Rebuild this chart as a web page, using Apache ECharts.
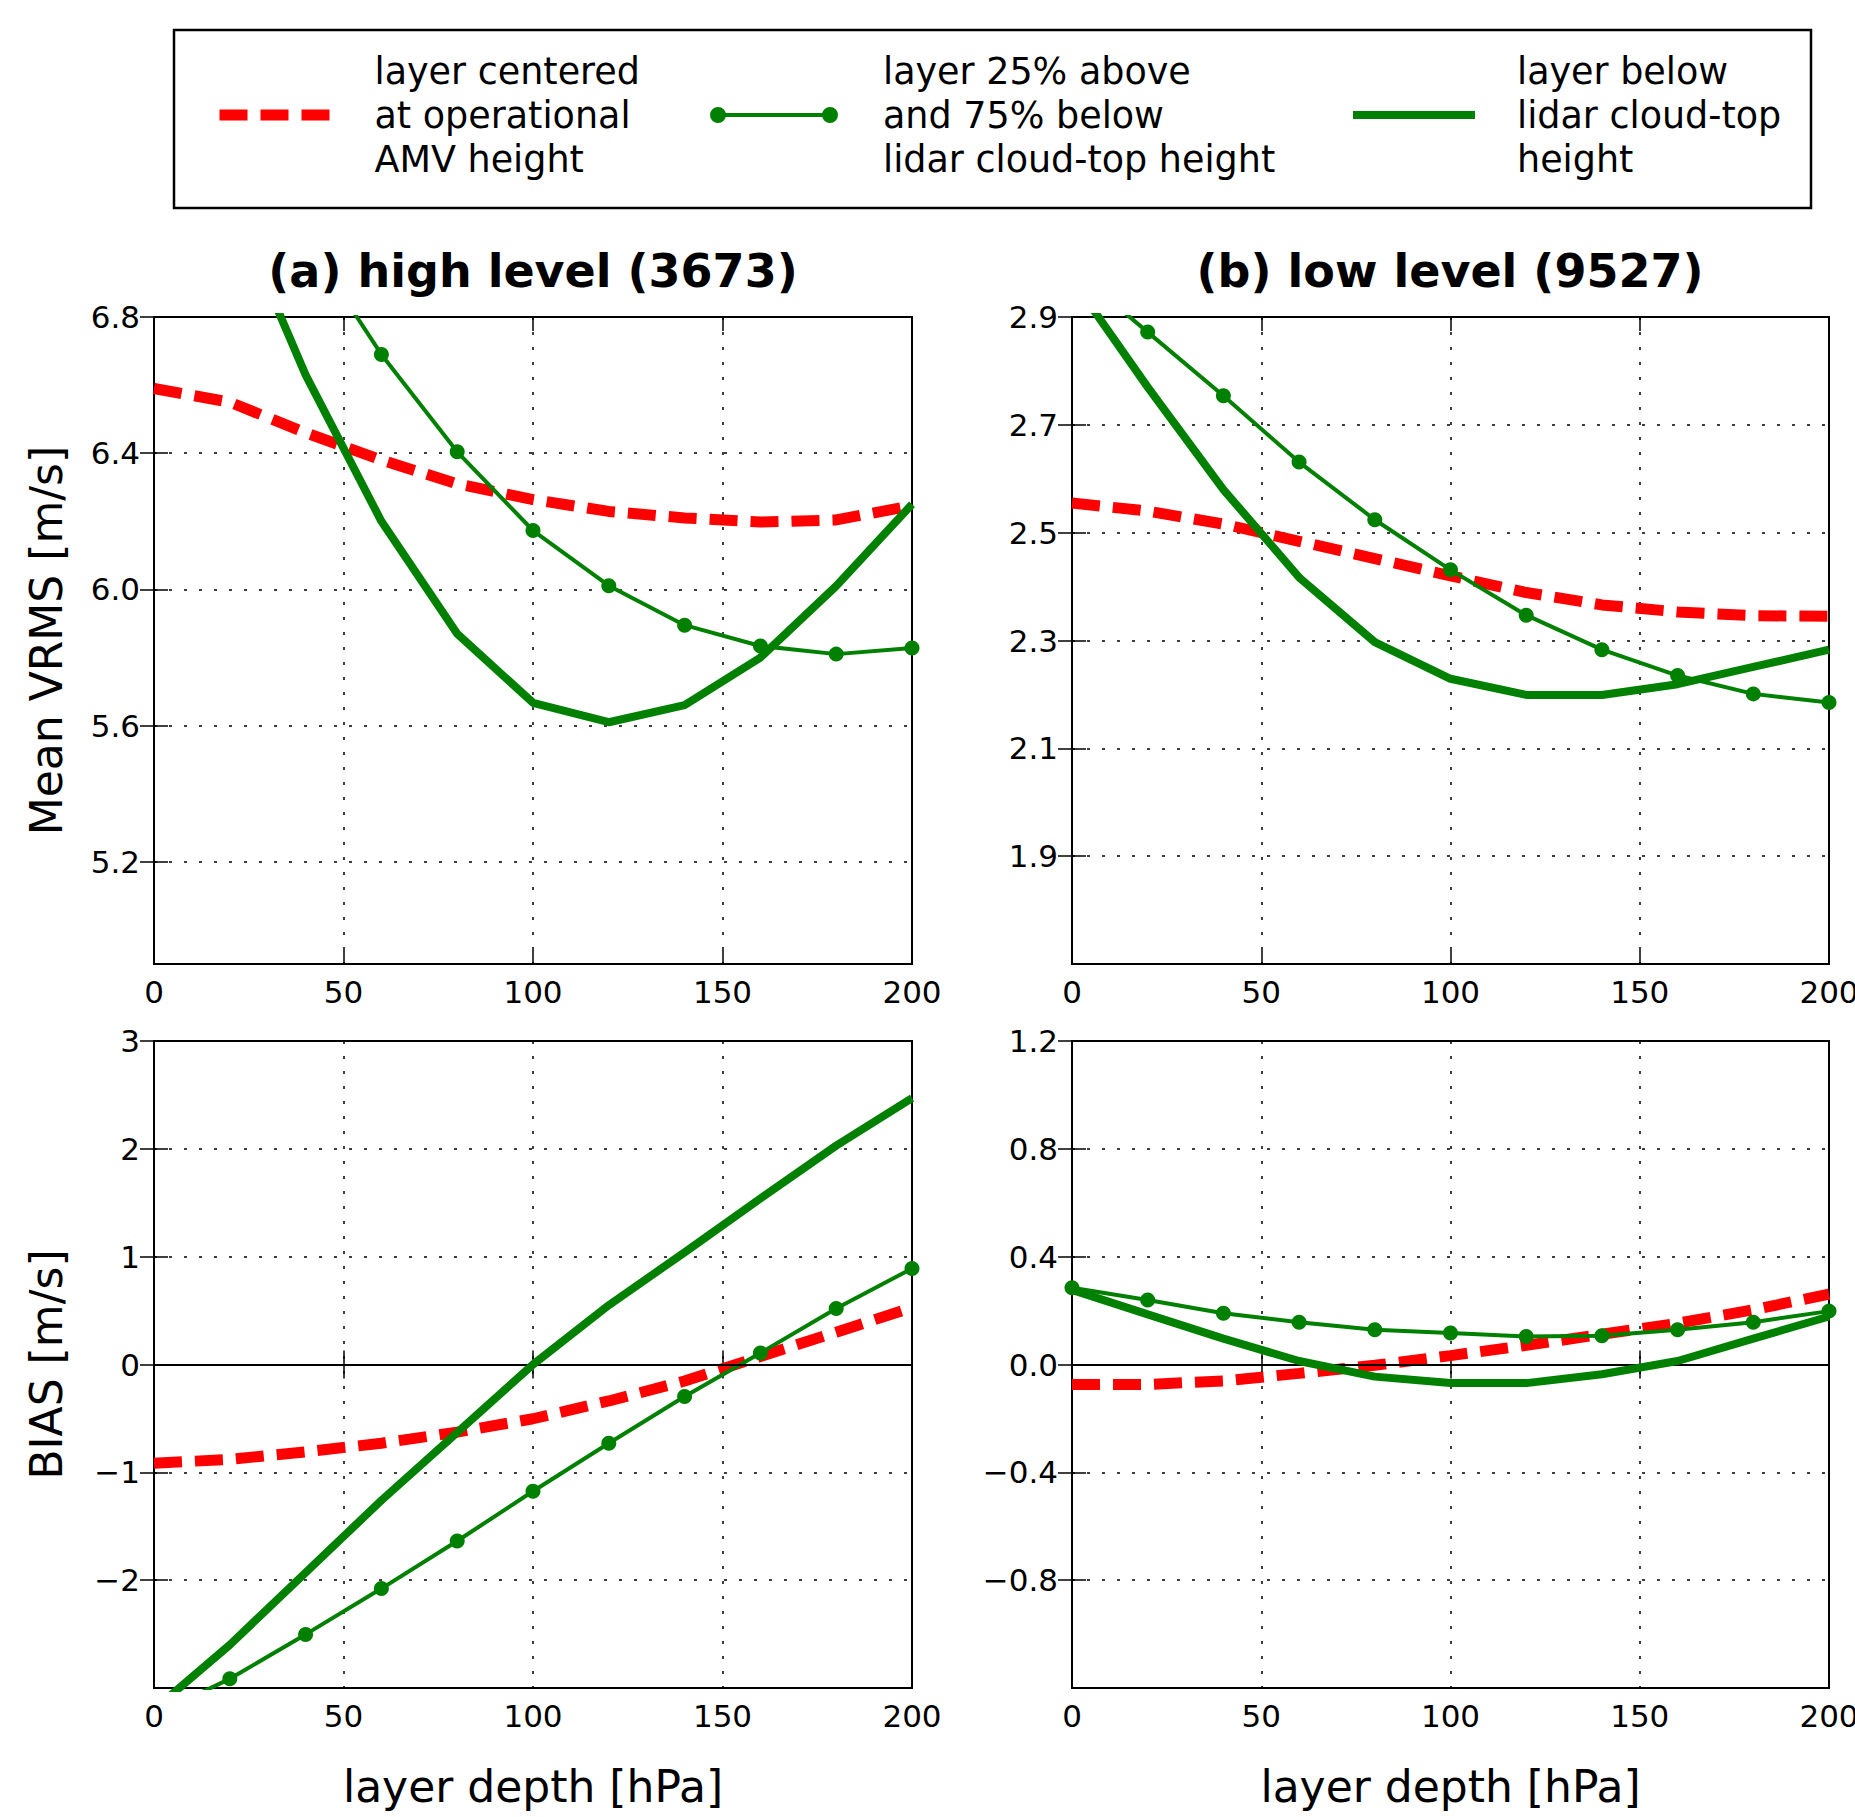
<!DOCTYPE html>
<html><head><meta charset="utf-8">
<script src="https://cdn.jsdelivr.net/npm/echarts@6/dist/echarts.min.js"></script>
<style>html,body{margin:0;padding:0;background:#fff;overflow:hidden}#c{width:1855px;height:1817px}</style>
</head><body><div id="c"></div>
<script>
// ---- data ----
const depth = [0, 20, 40, 60, 80, 100, 120, 140, 160, 180, 200];
const xTicks = [0, 50, 100, 150, 200];
const seriesKeys = ['centered', 'mixed', 'below'];
const legendLabels = [
  'layer centered\nat operational\nAMV height',
  'layer 25% above\nand 75% below\nlidar cloud-top height',
  'layer below\nlidar cloud-top\nheight'
];
const panelTitles = ['(a) high level (3673)', '(b) low level (9527)'];
const yNames = ['Mean VRMS [m/s]', 'BIAS [m/s]'];
const xName = 'layer depth [hPa]';

const vrmsHighCentered = [6.59, 6.55, 6.46, 6.38, 6.31, 6.264, 6.229, 6.21, 6.198, 6.204, 6.246];
const vrmsHighMixed    = [7.8, 7.4, 7.03, 6.69, 6.404, 6.173, 6.011, 5.895, 5.834, 5.81, 5.828];
const vrmsHighBelow    = [7.6, 7.15, 6.63, 6.2, 5.87, 5.667, 5.61, 5.66, 5.80, 6.01, 6.25];

const vrmsLowCentered  = [2.555, 2.54, 2.516, 2.484, 2.452, 2.42, 2.389, 2.366, 2.353, 2.346, 2.345];
const vrmsLowMixed     = [2.99, 2.872, 2.754, 2.631, 2.524, 2.431, 2.347, 2.283, 2.235, 2.201, 2.185];
const vrmsLowBelow     = [2.97, 2.77, 2.58, 2.417, 2.297, 2.229, 2.199, 2.199, 2.219, 2.251, 2.283];

const biasHighCentered = [-0.915, -0.88, -0.81, -0.73, -0.627, -0.503, -0.338, -0.153, 0.074, 0.30, 0.528];
const biasHighMixed    = [-3.25, -2.915, -2.503, -2.078, -1.637, -1.175, -0.73, -0.297, 0.107, 0.52, 0.89];
const biasHighBelow    = [-3.2, -2.6, -1.93, -1.26, -0.63, 0.0, 0.55, 1.04, 1.54, 2.03, 2.47];

const biasLowCentered  = [-0.074, -0.074, -0.061, -0.033, -0.003, 0.033, 0.071, 0.112, 0.153, 0.203, 0.261];
const biasLowMixed     = [0.285, 0.239, 0.19, 0.157, 0.129, 0.117, 0.104, 0.107, 0.129, 0.157, 0.198];
const biasLowBelow     = [0.277, 0.186, 0.096, 0.013, -0.045, -0.069, -0.069, -0.036, 0.013, 0.096, 0.178];

// y-axis ranges and tick labels
const yRanges = [[4.9, 6.8], [1.7, 2.9], [-3, 3], [-1.2, 1.2]];
const yTickVals = [
  [5.2, 5.6, 6.0, 6.4, 6.8],
  [1.9, 2.1, 2.3, 2.5, 2.7, 2.9],
  [-2, -1, 0, 1, 2, 3],
  [-0.8, -0.4, 0.0, 0.4, 0.8, 1.2]
];
const yDecimals = [1, 1, 0, 1];

// ---- layout ----
const FONT = 'DejaVu Sans';
const grids = [
  {left: 154, top: 317, width: 758, height: 647},
  {left: 1072, top: 317, width: 757, height: 647},
  {left: 154, top: 1041, width: 758, height: 647},
  {left: 1072, top: 1041, width: 757, height: 647}
];
const panelData = [
  [vrmsHighCentered, vrmsHighMixed, vrmsHighBelow],
  [vrmsLowCentered, vrmsLowMixed, vrmsLowBelow],
  [biasHighCentered, biasHighMixed, biasHighBelow],
  [biasLowCentered, biasLowMixed, biasLowBelow]
];
const RED = '#ff0000', GREEN = '#008000';
const gridLineStyle = {color: '#000', width: 1.5, type: [3, 12]};
const tickStyle = {show: true, inside: true, length: 14, lineStyle: {color: '#000', width: 1.5}};
const minus = s => s.replace('-', '\u2212');

const xAxes = [], yAxes = [], series = [];
grids.forEach((g, i) => {
  const bottomRow = i >= 2;
  xAxes.push({
    type: 'value', gridIndex: i, position: 'bottom', min: 0, max: 200, interval: 50,
    axisLine: {show: false},
    axisTick: tickStyle,
    axisLabel: {show: true, fontFamily: FONT, fontSize: 31, color: '#000', margin: 12},
    splitLine: {show: true, lineStyle: gridLineStyle},
    name: bottomRow ? xName : '', nameLocation: 'middle', nameGap: 76,
    nameTextStyle: {fontFamily: FONT, fontSize: 44, color: '#000'}
  });
  xAxes.push({
    type: 'value', gridIndex: i, position: 'top', min: 0, max: 200, interval: 50,
    axisLine: {show: false}, axisTick: tickStyle, axisLabel: {show: false}, splitLine: {show: false}
  });
  const dec = yDecimals[i];
  yAxes.push({
    type: 'value', gridIndex: i, position: 'left', min: yRanges[i][0], max: yRanges[i][1],
    axisLine: {show: false},
    axisTick: Object.assign({}, tickStyle, {customValues: yTickVals[i]}),
    axisLabel: {show: true, customValues: yTickVals[i], fontFamily: FONT, fontSize: 31, color: '#000', margin: 14,
      formatter: v => minus(Number(v).toFixed(dec))},
    splitLine: {show: true, lineStyle: gridLineStyle},
    name: (i % 2 === 0) ? yNames[i >> 1] : '', nameLocation: 'middle', nameRotate: 90, nameGap: 86,
    nameTextStyle: {fontFamily: FONT, fontSize: 44, color: '#000'}
  });
  yAxes.push({
    type: 'value', gridIndex: i, position: 'right', min: yRanges[i][0], max: yRanges[i][1],
    axisLine: {show: false},
    axisTick: Object.assign({}, tickStyle, {customValues: yTickVals[i]}),
    axisLabel: {show: false, customValues: yTickVals[i]}, splitLine: {show: false}
  });
  const [cen, mix, bel] = panelData[i];
  const pairs = arr => depth.map((d, k) => [d, arr[k]]);
  series.push({
    name: 'centered', type: 'line', xAxisIndex: 2 * i, yAxisIndex: 2 * i, data: pairs(cen),
    showSymbol: false, symbol: 'none', clip: true,
    lineStyle: {color: RED, width: 11, type: [28, 13], cap: 'butt'}, itemStyle: {color: RED},
    markLine: bottomRow ? {silent: true, symbol: 'none', label: {show: false},
      lineStyle: {color: '#000', width: 2, type: 'solid'}, data: [{yAxis: 0}]} : undefined,
    z: 3
  });
  series.push({
    name: 'mixed', type: 'line', xAxisIndex: 2 * i, yAxisIndex: 2 * i, data: pairs(mix),
    symbol: 'circle', symbolSize: 15, showSymbol: true, clip: true,
    lineStyle: {color: GREEN, width: 4}, itemStyle: {color: GREEN}, z: 4
  });
  series.push({
    name: 'below', type: 'line', xAxisIndex: 2 * i, yAxisIndex: 2 * i, data: pairs(bel),
    symbol: 'none', showSymbol: false, clip: true,
    lineStyle: {color: GREEN, width: 8, join: 'round'}, itemStyle: {color: GREEN}, z: 5
  });
});

const legendTextStyle = pad => ({fontFamily: FONT, fontSize: 36.5, lineHeight: 44, color: '#000', padding: [0, 0, 0, pad]});
const legendFormatter = name => legendLabels[seriesKeys.indexOf(name)];
const legends = [
  {data: ['centered'], left: 214, top: 49, padding: 0, itemWidth: 113, itemHeight: 16, selectedMode: false,
    formatter: legendFormatter, textStyle: legendTextStyle(37),
    lineStyle: {color: RED, width: 11, type: [28, 13], cap: 'butt'}, itemStyle: {opacity: 0}},
  {data: [{name: 'mixed',
      icon: 'path://M0,8a8,8 0 1,1 16,0a8,8 0 1,1 -16,0z M112,8a8,8 0 1,1 16,0a8,8 0 1,1 -16,0z M8,6H120V10H8z'}],
    left: 710, top: 49, padding: 0, itemWidth: 128, itemHeight: 16, selectedMode: false,
    formatter: legendFormatter, textStyle: legendTextStyle(40), itemStyle: {color: GREEN}},
  {data: ['below'], left: 1349, top: 49, padding: 0, itemWidth: 122, itemHeight: 16, selectedMode: false,
    formatter: legendFormatter, textStyle: legendTextStyle(37),
    lineStyle: {color: GREEN, width: 8}, itemStyle: {opacity: 0}}
];

const option = {
  animation: false,
  backgroundColor: '#fff',
  title: [
    {text: panelTitles[0], left: 533, top: 248, textAlign: 'center', padding: 0,
      textStyle: {fontFamily: FONT, fontWeight: 'bold', fontSize: 46, color: '#000'}},
    {text: panelTitles[1], left: 1450, top: 248, textAlign: 'center', padding: 0,
      textStyle: {fontFamily: FONT, fontWeight: 'bold', fontSize: 46, color: '#000'}}
  ],
  legend: legends,
  grid: grids.map(g => Object.assign({show: true, borderColor: '#000', borderWidth: 2,
    backgroundColor: 'transparent', containLabel: false, outerBoundsMode: 'none'}, g)),
  xAxis: xAxes,
  yAxis: yAxes,
  series: series,
  graphic: [{type: 'rect', shape: {x: 174, y: 30, width: 1637, height: 178},
    style: {fill: 'none', stroke: '#000', lineWidth: 2.5}, silent: true}]
};
const chart = echarts.init(document.getElementById('c'), null, {renderer: 'svg'});
chart.setOption(option);
</script></body></html>
